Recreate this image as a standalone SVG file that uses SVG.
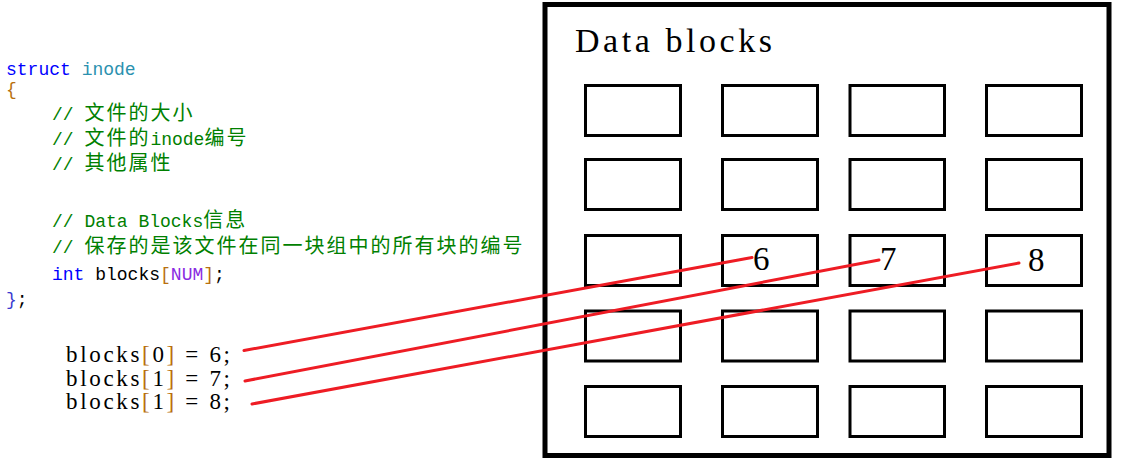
<svg xmlns="http://www.w3.org/2000/svg" width="1121" height="466" viewBox="0 0 1121 466">
<style>
.code{font-family:"Liberation Mono","Noto Sans CJK SC",monospace;font-size:18px;fill:#000}
.cjk{font-family:"Noto Sans CJK SC",sans-serif;font-size:20px;letter-spacing:2px}
.cm{fill:#008000}
.kw{fill:#0000ff}
.ty{fill:#2b91af}
.br{fill:#b8700f}
.mac{fill:#8a2be2}
.ser{font-family:"Liberation Serif","Times New Roman",serif;fill:#000}
.cell{fill:none;stroke:#000;stroke-width:3}
.frame{fill:none;stroke:#000;stroke-width:5}
.link{stroke:#ee1c24;stroke-width:3;fill:none;stroke-linecap:round}
</style>
<rect width="1121" height="466" fill="#fff"/>
<g id="code">
<text class="code" x="6" y="75"><tspan class="kw">struct</tspan> <tspan class="ty">inode</tspan></text>
<text class="code br" x="6" y="95">{</text>
<text class="code cm" x="52" y="120">// <tspan class="cjk">文件的大小</tspan></text>
<text class="code cm" x="52" y="145">// <tspan class="cjk">文件的</tspan>inode<tspan class="cjk">编号</tspan></text>
<text class="code cm" x="52" y="170">// <tspan class="cjk">其他属性</tspan></text>
<text class="code cm" x="52" y="227">// Data Blocks<tspan class="cjk">信息</tspan></text>
<text class="code cm" x="52" y="253">// <tspan class="cjk">保存的是该文件在同一块组中的所有块的编号</tspan></text>
<text class="code" x="52" y="280"><tspan class="kw">int</tspan> blocks<tspan class="br">[</tspan><tspan class="mac">NUM</tspan><tspan class="br">]</tspan>;</text>
<text class="code" x="6" y="305"><tspan fill="#3a3ad0">}</tspan>;</text>
</g>
<g id="assignments">
<text class="ser" x="66" y="362" font-size="23" textLength="164" lengthAdjust="spacing">blocks<tspan class="br">[</tspan>0<tspan class="br">]</tspan> = 6;</text>
<text class="ser" x="66" y="386" font-size="23" textLength="164" lengthAdjust="spacing">blocks<tspan class="br">[</tspan>1<tspan class="br">]</tspan> = 7;</text>
<text class="ser" x="66" y="409" font-size="23" textLength="164" lengthAdjust="spacing">blocks<tspan class="br">[</tspan>1<tspan class="br">]</tspan> = 8;</text>
</g>
<g id="data-blocks">
<rect class="frame" x="545" y="4.5" width="564" height="451"/>
<text class="ser" x="575" y="52" font-size="34" textLength="197" lengthAdjust="spacing">Data blocks</text>
</g>
<g id="cells">
<g id="r1"><rect class="cell" x="585.5" y="85.5" width="95" height="50"/><rect class="cell" x="722.5" y="85.5" width="95" height="50"/><rect class="cell" x="850" y="85.5" width="94.5" height="50"/><rect class="cell" x="986.5" y="85.5" width="95" height="50"/></g>
<g id="r2"><rect class="cell" x="585.5" y="159.5" width="95" height="50"/><rect class="cell" x="722.5" y="159.5" width="95" height="50"/><rect class="cell" x="850" y="159.5" width="94.5" height="50"/><rect class="cell" x="986.5" y="159.5" width="95" height="50"/></g>
<g id="r3"><rect class="cell" x="585.5" y="235.5" width="95" height="50"/><rect id="block6" class="cell" x="722.5" y="235.5" width="95" height="50"/><rect id="block7" class="cell" x="850" y="235.5" width="94.5" height="50"/><rect id="block8" class="cell" x="986.5" y="235.5" width="95" height="50"/></g>
<g id="r4"><rect class="cell" x="585.5" y="311" width="95" height="50"/><rect class="cell" x="722.5" y="311" width="95" height="50"/><rect class="cell" x="850" y="311" width="94.5" height="50"/><rect class="cell" x="986.5" y="311" width="95" height="50"/></g>
<g id="r5"><rect class="cell" x="585.5" y="386.5" width="95" height="50"/><rect class="cell" x="722.5" y="386.5" width="95" height="50"/><rect class="cell" x="850" y="386.5" width="94.5" height="50"/><rect class="cell" x="986.5" y="386.5" width="95" height="50"/></g>
</g>
<g id="connectors">
<line class="link" x1="244" y1="350.5" x2="752" y2="257.5"/>
<line class="link" x1="245" y1="381" x2="879" y2="260"/>
<line class="link" x1="252" y1="404" x2="1019" y2="263"/>
</g>
<g id="labels">
<text class="ser" x="753" y="270" font-size="33">6</text>
<text class="ser" x="880" y="270" font-size="33">7</text>
<text class="ser" x="1028" y="271" font-size="33">8</text>
</g>
</svg>
